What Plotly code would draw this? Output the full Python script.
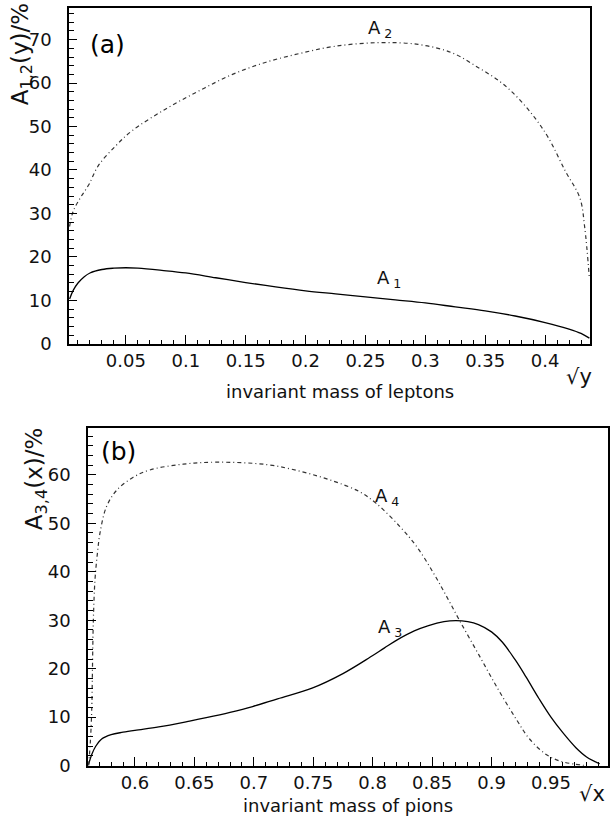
import plotly.graph_objects as go

# ---- panel (a): invariant mass of leptons ----
a1_x = [0.003, 0.006, 0.01, 0.015, 0.02, 0.03, 0.04, 0.05, 0.06, 0.08, 0.1, 0.125, 0.15,
        0.175, 0.2, 0.225, 0.25, 0.275, 0.3, 0.325, 0.35, 0.375, 0.4, 0.42, 0.43, 0.437]
a1_y = [10.3, 12.3, 14.0, 15.4, 16.3, 17.1, 17.4, 17.5, 17.4, 16.9, 16.3, 15.2, 14.1,
        13.1, 12.2, 11.5, 10.8, 10.1, 9.4, 8.5, 7.6, 6.4, 4.9, 3.4, 2.4, 1.3]

a2_x = [0.003, 0.006, 0.012, 0.019, 0.027, 0.042, 0.055, 0.083, 0.111, 0.139, 0.167, 0.195,
        0.223, 0.26, 0.294, 0.322, 0.344, 0.363, 0.378, 0.392, 0.403, 0.417, 0.429, 0.433, 0.437]
a2_y = [27.0, 30.5, 33.6, 36.6, 41.0, 45.7, 49.0, 54.0, 58.2, 62.0, 64.8, 66.8,
        68.4, 69.3, 68.9, 67.0, 63.6, 60.2, 56.4, 51.8, 47.3, 39.7, 33.6, 27.0, 15.0]

# ---- panel (b): invariant mass of pions ----
a3_x = [0.561, 0.564, 0.567, 0.572, 0.58, 0.59, 0.6, 0.62, 0.646, 0.66, 0.68, 0.699, 0.72,
        0.749, 0.775, 0.798, 0.81, 0.821, 0.835, 0.847, 0.86, 0.87, 0.88, 0.889, 0.9, 0.909,
        0.92, 0.929, 0.94, 0.95, 0.96, 0.971, 0.98, 0.991]
a3_y = [0.3, 2.5, 4.0, 5.5, 6.4, 6.9, 7.3, 8.0, 9.2, 9.9, 11.0, 12.2, 13.8,
        16.0, 19.0, 22.4, 24.3, 26.0, 27.8, 28.9, 29.7, 29.9, 29.7, 29.1, 27.6, 25.5,
        21.8, 18.3, 13.8, 10.0, 6.8, 3.7, 1.8, 0.4]

a4_x = [0.561, 0.5625, 0.5636, 0.565, 0.5664, 0.5685, 0.5706, 0.576, 0.5846, 0.5986, 0.6126,
        0.6406, 0.6687, 0.711, 0.741, 0.767, 0.789, 0.803, 0.823, 0.837, 0.851, 0.862, 0.873,
        0.889, 0.905, 0.921, 0.932, 0.946, 0.957, 0.97, 0.98]
a4_y = [0.0, 5.0, 11.2, 30.0, 38.4, 44.0, 48.0, 53.4, 56.8, 59.5, 61.0,
        62.2, 62.6, 62.1, 60.6, 58.7, 56.5, 54.1, 49.3, 45.2, 39.8, 35.0, 30.0,
        23.0, 16.0, 9.5, 5.5, 2.3, 1.0, 0.3, 0.0]

xa_ticks = [0.05, 0.1, 0.15, 0.2, 0.25, 0.3, 0.35, 0.4]
xa_text = ["0.05", "0.1", "0.15", "0.2", "0.25", "0.3", "0.35", "0.4"]
ya_ticks = [0, 10, 20, 30, 40, 50, 60, 70]
xb_ticks = [0.6, 0.65, 0.7, 0.75, 0.8, 0.85, 0.9, 0.95]
xb_text = ["0.6", "0.65", "0.7", "0.75", "0.8", "0.85", "0.9", "0.95"]
yb_ticks = [0, 10, 20, 30, 40, 50, 60]

FONT = "DejaVu Sans"
DASH = "4px,3px,1px,3px"

fig = go.Figure()
fig.add_trace(go.Scatter(x=a1_x, y=a1_y, mode="lines", line=dict(color="black", width=1.3, shape="spline"),
                         xaxis="x", yaxis="y"))
fig.add_trace(go.Scatter(x=a2_x, y=a2_y, mode="lines",
                         line=dict(color="#333", width=1.2, dash=DASH, shape="spline"),
                         xaxis="x", yaxis="y"))
fig.add_trace(go.Scatter(x=a3_x, y=a3_y, mode="lines", line=dict(color="black", width=1.3, shape="spline"),
                         xaxis="x2", yaxis="y2"))
fig.add_trace(go.Scatter(x=a4_x, y=a4_y, mode="lines",
                         line=dict(color="#333", width=1.2, dash=DASH, shape="spline"),
                         xaxis="x2", yaxis="y2"))

tickfont = dict(family=FONT, size=18, color="#111")
common = dict(showgrid=False, zeroline=False, showline=True, linecolor="black", linewidth=1.5,
              mirror=True, ticks="inside", tickcolor="black", tickwidth=1.2, tickfont=tickfont)

fig.update_layout(
    width=610, height=830, margin=dict(l=0, r=0, t=0, b=0),
    paper_bgcolor="white", plot_bgcolor="white", showlegend=False,
    xaxis=dict(domain=[69/610, 590/610], range=[0.0025, 0.4375], anchor="y",
               tickmode="array", tickvals=xa_ticks, ticktext=xa_text, ticklen=9,
               minor=dict(dtick=0.01, tick0=0, ticks="inside", ticklen=4, tickcolor="black"),
               **common),
    yaxis=dict(domain=[1-348/830, 1-8/830], range=[0, 77.3], anchor="x",
               tickmode="array", tickvals=ya_ticks, ticklen=8, ticklabelstandoff=12,
               minor=dict(dtick=2, tick0=0, ticks="inside", ticklen=5, tickcolor="black"),
               **common),
    xaxis2=dict(domain=[88/610, 608/610], range=[0.5605, 0.998], anchor="y2",
                tickmode="array", tickvals=xb_ticks, ticktext=xb_text, ticklen=9,
                minor=dict(dtick=0.01, tick0=0, ticks="inside", ticklen=4, tickcolor="black"),
                **common),
    yaxis2=dict(domain=[1-775/830, 1-433/830], range=[0, 69.7], anchor="x2",
                tickmode="array", tickvals=yb_ticks, ticklen=8, ticklabelstandoff=12,
                minor=dict(dtick=2, tick0=0, ticks="inside", ticklen=5, tickcolor="black"),
                **common),
)

ann_font = dict(family=FONT, size=18, color="#111")
anns = [
    dict(text="(a)", x=107/610, y=1-45/830, font=dict(family=FONT, size=25, color="black")),
    dict(text="(b)", x=118/610, y=1-457/830, font=dict(family=FONT, size=25, color="black")),
    dict(text="A<sub>1,2</sub>(y)/%", x=22/610, y=1-55/830, textangle=-90,
         font=dict(family=FONT, size=23, color="#111")),
    dict(text="A<sub>3,4</sub>(x)/%", x=36/610, y=1-485/830, textangle=-90,
         font=dict(family=FONT, size=23, color="#111")),
    dict(text="invariant mass of leptons", x=340/610, y=1-396/830, font=ann_font),
    dict(text="invariant mass of pions", x=348/610, y=1-815/830, font=ann_font),
    dict(text="√y", x=594/610, y=1-382/830, xanchor="right",
         font=dict(family=FONT, size=21, color="#111")),
    dict(text="√x", x=607/610, y=1-804/830, xanchor="right",
         font=dict(family=FONT, size=21, color="#111")),
]
for a in anns:
    a.setdefault("xanchor", "center")
    a["xref"] = "paper"
    a["yref"] = "paper"
anns += [
    dict(text="A<sub> 2</sub>", x=0.262, y=72.5, xref="x", yref="y", font=ann_font),
    dict(text="A<sub> 1</sub>", x=0.27, y=14.8, xref="x", yref="y", font=ann_font),
    dict(text="A<sub> 3</sub>", x=0.815, y=28.5, xref="x2", yref="y2", font=ann_font),
    dict(text="A<sub> 4</sub>", x=0.812, y=55.5, xref="x2", yref="y2", font=ann_font),
]
for a in anns:
    a["showarrow"] = False
    a.setdefault("xanchor", "center")
    a["yanchor"] = "middle"
fig.update_layout(annotations=anns)

fig.write_html("out.html", config={"displayModeBar": False},
               post_script="document.body.style.margin='0';document.body.style.padding='0';")
